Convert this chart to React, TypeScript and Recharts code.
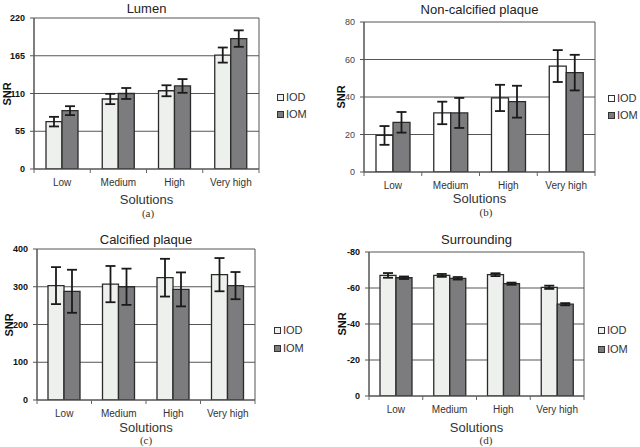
import React from "react";
import { BarChart, Bar, XAxis, YAxis, CartesianGrid, ErrorBar } from "recharts";

const CATEGORIES = ["Low", "Medium", "High", "Very high"];

const LUMEN_IOD = [69, 102, 114, 166];
const LUMEN_IOD_ERR = [7, 7.5, 8, 11];
const LUMEN_IOM = [85, 110, 121, 190];
const LUMEN_IOM_ERR = [6.5, 8, 10, 12];
const LUMEN_TICKS = [0, 55, 110, 165, 220];

const NONCALC_IOD = [19.5, 31.5, 39.5, 56.5];
const NONCALC_IOD_ERR = [5, 6, 7, 8.5];
const NONCALC_IOM = [26.5, 31.5, 37.5, 53];
const NONCALC_IOM_ERR = [5.5, 8, 8.5, 9.5];
const NONCALC_TICKS = [0, 20, 40, 60, 80];

const CALC_IOD = [303, 307, 324, 332];
const CALC_IOD_ERR = [49, 48, 50, 44];
const CALC_IOM = [288, 300, 293, 303];
const CALC_IOM_ERR = [57, 48, 45, 36];
const CALC_TICKS = [0, 100, 200, 300, 400];

const SURR_IOD = [-67, -67, -67.4, -60.4];
const SURR_IOD_ERR = [1.3, 0.8, 0.8, 0.9];
const SURR_IOM = [-65.7, -65.4, -62.4, -51];
const SURR_IOM_ERR = [0.7, 0.7, 0.6, 0.6];
const SURR_TICKS = [0, -20, -40, -60, -80];

const IOM_FILL = "#7c7c7e";
const BAR_STROKE = "#2a2a2a";
const FONT = "'Liberation Sans', Arial, sans-serif";

const W = 320;
const H = 227;
const Y_AXIS_W = 30;
const X_AXIS_H = 20;

function buildRows(iod: number[], iodErr: number[], iom: number[], iomErr: number[]) {
  return CATEGORIES.map((name, i) => ({
    name,
    iod: iod[i],
    iodErr: iodErr[i],
    iom: iom[i],
    iomErr: iomErr[i],
  }));
}

type PanelProps = {
  x0: number;
  y0: number;
  plot: { left: number; right: number; top: number; bottom: number };
  title: string;
  tag: string;
  rows: any[];
  ticks: number[];
  domain: [number, number];
  reversed?: boolean;
  iodFill: string;
  boldTicks: boolean;
  barSize: number;
  legend: { x: number; y1: number; y2: number };
  snrX: number;
  tagX: number;
  titleY: number;
  solY: number;
  tagY: number;
};

function Panel(p: PanelProps) {
  const band = (p.plot.right - p.plot.left) / 4;
  const plotMid = (p.plot.left + p.plot.right) / 2;

  // category labels with Excel-style tick marks between the categories
  const CategoryTick = (props: any) => {
    const { x, y, payload, index } = props;
    return (
      <g>
        <line x1={x - band / 2} x2={x - band / 2} y1={y} y2={y + 4} stroke="#666" />
        {index === 3 && <line x1={x + band / 2} x2={x + band / 2} y1={y} y2={y + 4} stroke="#666" />}
        <text x={x} y={y + 17} textAnchor="middle" fontSize={10} fill="#333" fontFamily={FONT}>
          {payload.value}
        </text>
      </g>
    );
  };

  return (
    <div style={{ position: "absolute", left: p.x0, top: p.y0, width: W, height: H }}>
      <BarChart
        width={W}
        height={H}
        data={p.rows}
        barGap={0}
        margin={{
          top: p.plot.top,
          left: p.plot.left - Y_AXIS_W,
          right: W - p.plot.right,
          bottom: H - p.plot.bottom - X_AXIS_H,
        }}
      >
        <CartesianGrid
          stroke="#555"
          verticalCoordinatesGenerator={({ offset }: any) => [offset.left, offset.left + offset.width]}
        />
        <XAxis
          dataKey="name"
          height={X_AXIS_H}
          tick={<CategoryTick />}
          tickLine={false}
          tickSize={0}
          tickMargin={0}
          axisLine={{ stroke: "#555" }}
          interval={0}
        />
        <YAxis
          width={Y_AXIS_W}
          domain={p.domain}
          ticks={p.ticks}
          reversed={p.reversed}
          allowDataOverflow
          tickSize={4}
          tickMargin={5}
          axisLine={{ stroke: "#555" }}
          tickLine={{ stroke: "#555" }}
          tick={{
            fontSize: 9,
            fontWeight: p.boldTicks ? "bold" : "normal",
            fill: p.boldTicks ? "#111" : "#444",
            fontFamily: FONT,
          }}
        />
        <Bar dataKey="iod" name="IOD" fill={p.iodFill} stroke={BAR_STROKE} strokeWidth={1.3} barSize={p.barSize} isAnimationActive={false}>
          <ErrorBar dataKey="iodErr" width={5} stroke="#1a1a1a" strokeWidth={1.8} direction="y" />
        </Bar>
        <Bar dataKey="iom" name="IOM" fill={IOM_FILL} stroke={BAR_STROKE} strokeWidth={1.3} barSize={p.barSize} isAnimationActive={false}>
          <ErrorBar dataKey="iomErr" width={5} stroke="#1a1a1a" strokeWidth={1.8} direction="y" />
        </Bar>
      </BarChart>

      <div style={{ position: "absolute", left: plotMid, top: p.titleY, transform: "translate(-50%,-50%)", fontSize: 13, color: "#222", whiteSpace: "nowrap" }}>
        {p.title}
      </div>
      <div style={{ position: "absolute", left: p.snrX, top: (p.plot.top + p.plot.bottom) / 2, transform: "translate(-50%,-50%) rotate(-90deg)", fontSize: 11, fontWeight: "bold", color: "#111" }}>
        SNR
      </div>
      <div style={{ position: "absolute", left: plotMid, top: p.solY, transform: "translate(-50%,-50%)", fontSize: 13, color: "#333" }}>
        Solutions
      </div>
      <div style={{ position: "absolute", left: p.tagX, top: p.tagY, transform: "translate(-50%,-50%)", fontSize: 11, lineHeight: "12px", color: "#333", fontFamily: "'Liberation Serif', 'DejaVu Serif', serif" }}>
        {p.tag}
      </div>
      {[
        { label: "IOD", fill: p.iodFill, y: p.legend.y1 },
        { label: "IOM", fill: IOM_FILL, y: p.legend.y2 },
      ].map((item) => (
        <div key={item.label} style={{ position: "absolute", left: p.legend.x, top: item.y, transform: "translateY(-50%)", display: "flex", alignItems: "center", gap: 2, fontSize: 11, color: "#333" }}>
          <span style={{ width: 5, height: 5, background: item.fill, border: "1px solid #333", display: "inline-block" }} />
          <span>{item.label}</span>
        </div>
      ))}
    </div>
  );
}

export default function App() {
  return (
    <div style={{ position: "absolute", left: 0, top: 0, width: 640, height: 447, background: "#fff", fontFamily: FONT, overflow: "hidden" }}>
      <Panel
        x0={0}
        y0={0}
        plot={{ left: 34, right: 259, top: 18, bottom: 169 }}
        title="Lumen"
        tag="(a)"
        rows={buildRows(LUMEN_IOD, LUMEN_IOD_ERR, LUMEN_IOM, LUMEN_IOM_ERR)}
        ticks={LUMEN_TICKS}
        domain={[0, 220]}
        iodFill="#eef0ee"
        boldTicks
        barSize={16}
        legend={{ x: 277, y1: 97, y2: 114 }}
        snrX={7}
        tagX={148}
        titleY={8}
        solY={199}
        tagY={213}
      />
      <Panel
        x0={320}
        y0={0}
        plot={{ left: 44, right: 275, top: 22, bottom: 172 }}
        title="Non-calcified plaque"
        tag="(b)"
        rows={buildRows(NONCALC_IOD, NONCALC_IOD_ERR, NONCALC_IOM, NONCALC_IOM_ERR)}
        ticks={NONCALC_TICKS}
        domain={[0, 80]}
        iodFill="#ffffff"
        boldTicks={false}
        barSize={17}
        legend={{ x: 288, y1: 98, y2: 115 }}
        snrX={21}
        tagX={166}
        titleY={9}
        solY={198}
        tagY={212}
      />
      <Panel
        x0={0}
        y0={220}
        plot={{ left: 37, right: 255, top: 29, bottom: 180 }}
        title="Calcified plaque"
        tag="(c)"
        rows={buildRows(CALC_IOD, CALC_IOD_ERR, CALC_IOM, CALC_IOM_ERR)}
        ticks={CALC_TICKS}
        domain={[0, 400]}
        iodFill="#eef0ee"
        boldTicks
        barSize={16}
        legend={{ x: 274, y1: 110, y2: 128 }}
        snrX={9}
        tagX={146}
        titleY={19}
        solY={207}
        tagY={220}
      />
      <Panel
        x0={320}
        y0={220}
        plot={{ left: 49, right: 264, top: 32, bottom: 176 }}
        title="Surrounding"
        tag="(d)"
        rows={buildRows(SURR_IOD, SURR_IOD_ERR, SURR_IOM, SURR_IOM_ERR)}
        ticks={SURR_TICKS}
        domain={[-80, 0]}
        reversed
        iodFill="#eef0ee"
        boldTicks
        barSize={16}
        legend={{ x: 278, y1: 110, y2: 129 }}
        snrX={22}
        tagX={166}
        titleY={19}
        solY={207}
        tagY={220}
      />
    </div>
  );
}
